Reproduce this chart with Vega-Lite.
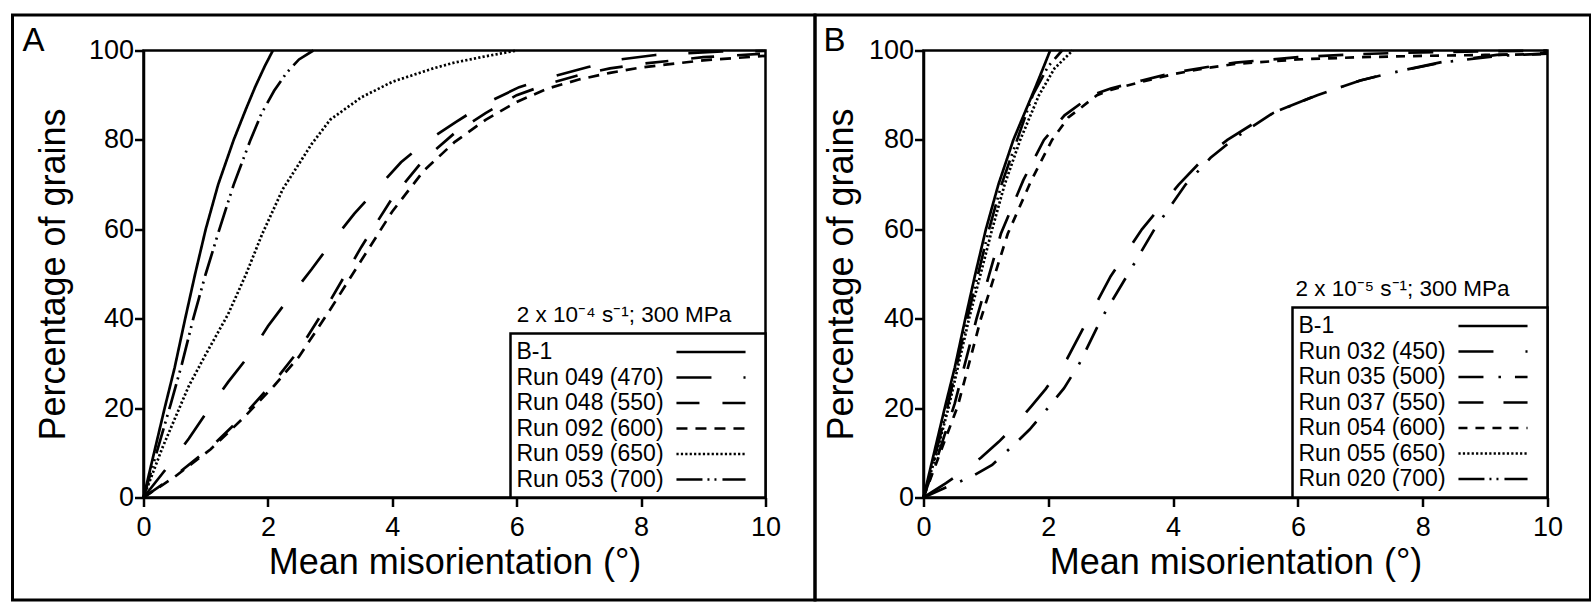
{
  "$schema": "https://vega.github.io/schema/vega-lite/v6.json",
  "background": "white",
  "padding": {"left": 9.5, "top": 11.5, "right": 0, "bottom": 0},
  "bounds": "flush",
  "spacing": 158,
  "resolve": {"scale": {"strokeDash": "independent"}, "legend": {"strokeDash": "independent"}},
  "config": {
    "font": "Liberation Sans",
    "view": {"stroke": "black", "strokeWidth": 2.5},
    "axis": {
      "domainColor": "black", "domainWidth": 2.5, "tickColor": "black", "tickWidth": 2.5, "tickSize": 9,
      "labelFont": "Liberation Sans", "labelFontSize": 27, "labelColor": "black", "labelFlush": false, "labelOverlap": false, "labelBound": false,
      "titleFont": "Liberation Sans", "titleFontSize": 36, "titleFontWeight": "normal", "titleColor": "black", "grid": false
    },
    "legend": {
      "orient": "bottom-right", "offset": 0, "padding": 6,
      "strokeColor": "black", "strokeWidth": 2.5, "fillColor": "white",
      "symbolType": "M-3.14,0H3.14M3.87,0", "symbolSize": 484, "symbolStrokeWidth": 2.7, "symbolStrokeColor": "black", "symbolFillColor": "transparent",
      "labelFont": "Liberation Sans", "labelFontSize": 23, "labelColor": "black", "labelLimit": 600,
      "rowPadding": 0.5, "symbolOffset": 182, "labelOffset": -207
    }
  },
  "datasets": {
    "a": [
      {"series": "B-1", "x": 0, "y": 0}, {"series": "B-1", "x": 0.17, "y": 10}, {"series": "B-1", "x": 0.34, "y": 20}, {"series": "B-1", "x": 0.5, "y": 29}, {"series": "B-1", "x": 0.67, "y": 40}, {"series": "B-1", "x": 0.83, "y": 50}, {"series": "B-1", "x": 1.0, "y": 60}, {"series": "B-1", "x": 1.2, "y": 70}, {"series": "B-1", "x": 1.45, "y": 80}, {"series": "B-1", "x": 1.65, "y": 87}, {"series": "B-1", "x": 1.8, "y": 92}, {"series": "B-1", "x": 1.95, "y": 96.5}, {"series": "B-1", "x": 2.08, "y": 100},
      {"series": "Run 049 (470)", "x": 0, "y": 0}, {"series": "Run 049 (470)", "x": 0.38, "y": 6.7}, {"series": "Run 049 (470)", "x": 0.73, "y": 13.2}, {"series": "Run 049 (470)", "x": 1.03, "y": 19.4}, {"series": "Run 049 (470)", "x": 1.36, "y": 25.8}, {"series": "Run 049 (470)", "x": 1.72, "y": 32.2}, {"series": "Run 049 (470)", "x": 2.0, "y": 38.3}, {"series": "Run 049 (470)", "x": 2.34, "y": 44.6}, {"series": "Run 049 (470)", "x": 2.7, "y": 51}, {"series": "Run 049 (470)", "x": 3.03, "y": 57.2}, {"series": "Run 049 (470)", "x": 3.39, "y": 63.5}, {"series": "Run 049 (470)", "x": 3.75, "y": 69}, {"series": "Run 049 (470)", "x": 4.14, "y": 75}, {"series": "Run 049 (470)", "x": 4.53, "y": 79.5}, {"series": "Run 049 (470)", "x": 5.02, "y": 84}, {"series": "Run 049 (470)", "x": 5.48, "y": 88}, {"series": "Run 049 (470)", "x": 6.04, "y": 91.8}, {"series": "Run 049 (470)", "x": 6.53, "y": 94}, {"series": "Run 049 (470)", "x": 7.15, "y": 96.3}, {"series": "Run 049 (470)", "x": 7.61, "y": 97.9}, {"series": "Run 049 (470)", "x": 8.23, "y": 99}, {"series": "Run 049 (470)", "x": 8.72, "y": 99.4}, {"series": "Run 049 (470)", "x": 9.3, "y": 99.8}, {"series": "Run 049 (470)", "x": 10, "y": 99.9},
      {"series": "Run 048 (550)", "x": 0, "y": 0}, {"series": "Run 048 (550)", "x": 0.5, "y": 4.8}, {"series": "Run 048 (550)", "x": 1.08, "y": 11.2}, {"series": "Run 048 (550)", "x": 1.62, "y": 18.5}, {"series": "Run 048 (550)", "x": 2.1, "y": 25.9}, {"series": "Run 048 (550)", "x": 2.5, "y": 33}, {"series": "Run 048 (550)", "x": 3, "y": 44}, {"series": "Run 048 (550)", "x": 3.5, "y": 56}, {"series": "Run 048 (550)", "x": 4, "y": 67}, {"series": "Run 048 (550)", "x": 4.5, "y": 75.5}, {"series": "Run 048 (550)", "x": 5, "y": 81.5}, {"series": "Run 048 (550)", "x": 5.5, "y": 86}, {"series": "Run 048 (550)", "x": 6, "y": 90}, {"series": "Run 048 (550)", "x": 6.5, "y": 92.5}, {"series": "Run 048 (550)", "x": 7, "y": 94.5}, {"series": "Run 048 (550)", "x": 7.5, "y": 96}, {"series": "Run 048 (550)", "x": 8, "y": 97}, {"series": "Run 048 (550)", "x": 9, "y": 98.5}, {"series": "Run 048 (550)", "x": 10, "y": 99.3},
      {"series": "Run 092 (600)", "x": 0, "y": 0}, {"series": "Run 092 (600)", "x": 0.5, "y": 4.6}, {"series": "Run 092 (600)", "x": 1.08, "y": 10.8}, {"series": "Run 092 (600)", "x": 1.62, "y": 18}, {"series": "Run 092 (600)", "x": 2.1, "y": 25}, {"series": "Run 092 (600)", "x": 2.5, "y": 31.5}, {"series": "Run 092 (600)", "x": 3, "y": 42}, {"series": "Run 092 (600)", "x": 3.5, "y": 53}, {"series": "Run 092 (600)", "x": 4, "y": 64}, {"series": "Run 092 (600)", "x": 4.5, "y": 73}, {"series": "Run 092 (600)", "x": 5, "y": 79.5}, {"series": "Run 092 (600)", "x": 5.5, "y": 84.5}, {"series": "Run 092 (600)", "x": 6, "y": 88.5}, {"series": "Run 092 (600)", "x": 6.5, "y": 91.5}, {"series": "Run 092 (600)", "x": 7, "y": 93.5}, {"series": "Run 092 (600)", "x": 7.5, "y": 95}, {"series": "Run 092 (600)", "x": 8, "y": 96.2}, {"series": "Run 092 (600)", "x": 9, "y": 97.8}, {"series": "Run 092 (600)", "x": 10, "y": 98.8},
      {"series": "Run 059 (650)", "x": 0, "y": 0}, {"series": "Run 059 (650)", "x": 0.3, "y": 11}, {"series": "Run 059 (650)", "x": 0.73, "y": 25}, {"series": "Run 059 (650)", "x": 1.0, "y": 32}, {"series": "Run 059 (650)", "x": 1.36, "y": 41}, {"series": "Run 059 (650)", "x": 1.65, "y": 50}, {"series": "Run 059 (650)", "x": 1.91, "y": 59}, {"series": "Run 059 (650)", "x": 2.24, "y": 69}, {"series": "Run 059 (650)", "x": 2.7, "y": 79}, {"series": "Run 059 (650)", "x": 3.0, "y": 84.5}, {"series": "Run 059 (650)", "x": 3.5, "y": 89.5}, {"series": "Run 059 (650)", "x": 4, "y": 93}, {"series": "Run 059 (650)", "x": 4.66, "y": 96}, {"series": "Run 059 (650)", "x": 5, "y": 97.3}, {"series": "Run 059 (650)", "x": 5.5, "y": 98.7}, {"series": "Run 059 (650)", "x": 6, "y": 100},
      {"series": "Run 053 (700)", "x": 0, "y": 0}, {"series": "Run 053 (700)", "x": 0.22, "y": 10.5}, {"series": "Run 053 (700)", "x": 0.44, "y": 21}, {"series": "Run 053 (700)", "x": 0.62, "y": 30}, {"series": "Run 053 (700)", "x": 0.8, "y": 40}, {"series": "Run 053 (700)", "x": 1.0, "y": 50}, {"series": "Run 053 (700)", "x": 1.22, "y": 60}, {"series": "Run 053 (700)", "x": 1.45, "y": 70}, {"series": "Run 053 (700)", "x": 1.72, "y": 80}, {"series": "Run 053 (700)", "x": 1.9, "y": 86}, {"series": "Run 053 (700)", "x": 2.1, "y": 91}, {"series": "Run 053 (700)", "x": 2.3, "y": 95}, {"series": "Run 053 (700)", "x": 2.5, "y": 98}, {"series": "Run 053 (700)", "x": 2.73, "y": 100}
    ],
    "b": [
      {"series": "B-1", "x": 0, "y": 0}, {"series": "B-1", "x": 0.17, "y": 10}, {"series": "B-1", "x": 0.34, "y": 20}, {"series": "B-1", "x": 0.5, "y": 29}, {"series": "B-1", "x": 0.67, "y": 40}, {"series": "B-1", "x": 0.83, "y": 50}, {"series": "B-1", "x": 1.0, "y": 60}, {"series": "B-1", "x": 1.2, "y": 70}, {"series": "B-1", "x": 1.44, "y": 80}, {"series": "B-1", "x": 1.65, "y": 87}, {"series": "B-1", "x": 1.8, "y": 92}, {"series": "B-1", "x": 1.93, "y": 96.5}, {"series": "B-1", "x": 2.03, "y": 100},
      {"series": "Run 032 (450)", "x": 0, "y": 0}, {"series": "Run 032 (450)", "x": 0.36, "y": 3.2}, {"series": "Run 032 (450)", "x": 0.65, "y": 6}, {"series": "Run 032 (450)", "x": 0.92, "y": 8.9}, {"series": "Run 032 (450)", "x": 1.21, "y": 12.5}, {"series": "Run 032 (450)", "x": 1.47, "y": 16.2}, {"series": "Run 032 (450)", "x": 1.72, "y": 20.3}, {"series": "Run 032 (450)", "x": 1.96, "y": 24.3}, {"series": "Run 032 (450)", "x": 2.3, "y": 31}, {"series": "Run 032 (450)", "x": 2.62, "y": 39.5}, {"series": "Run 032 (450)", "x": 3.0, "y": 49.5}, {"series": "Run 032 (450)", "x": 3.5, "y": 60}, {"series": "Run 032 (450)", "x": 4.09, "y": 70}, {"series": "Run 032 (450)", "x": 4.5, "y": 76}, {"series": "Run 032 (450)", "x": 4.87, "y": 80}, {"series": "Run 032 (450)", "x": 5.5, "y": 85.5}, {"series": "Run 032 (450)", "x": 6.31, "y": 90}, {"series": "Run 032 (450)", "x": 7, "y": 93.3}, {"series": "Run 032 (450)", "x": 7.49, "y": 95}, {"series": "Run 032 (450)", "x": 8.34, "y": 97.5}, {"series": "Run 032 (450)", "x": 9.19, "y": 99}, {"series": "Run 032 (450)", "x": 10, "y": 99.5},
      {"series": "Run 035 (500)", "x": 0, "y": 0}, {"series": "Run 035 (500)", "x": 0.4, "y": 2.5}, {"series": "Run 035 (500)", "x": 0.79, "y": 4.8}, {"series": "Run 035 (500)", "x": 1.1, "y": 7.3}, {"series": "Run 035 (500)", "x": 1.45, "y": 11.8}, {"series": "Run 035 (500)", "x": 1.7, "y": 15.2}, {"series": "Run 035 (500)", "x": 2.01, "y": 20.3}, {"series": "Run 035 (500)", "x": 2.25, "y": 24.4}, {"series": "Run 035 (500)", "x": 2.5, "y": 30}, {"series": "Run 035 (500)", "x": 2.85, "y": 40}, {"series": "Run 035 (500)", "x": 3.3, "y": 50.5}, {"series": "Run 035 (500)", "x": 3.7, "y": 60}, {"series": "Run 035 (500)", "x": 4.2, "y": 70}, {"series": "Run 035 (500)", "x": 4.6, "y": 76}, {"series": "Run 035 (500)", "x": 5.0, "y": 80.5}, {"series": "Run 035 (500)", "x": 5.6, "y": 86}, {"series": "Run 035 (500)", "x": 6.31, "y": 90}, {"series": "Run 035 (500)", "x": 7, "y": 93.3}, {"series": "Run 035 (500)", "x": 7.5, "y": 95}, {"series": "Run 035 (500)", "x": 8.3, "y": 97.3}, {"series": "Run 035 (500)", "x": 9.2, "y": 98.8}, {"series": "Run 035 (500)", "x": 10, "y": 99.3},
      {"series": "Run 037 (550)", "x": 0, "y": 0}, {"series": "Run 037 (550)", "x": 0.2, "y": 8}, {"series": "Run 037 (550)", "x": 0.5, "y": 21}, {"series": "Run 037 (550)", "x": 0.85, "y": 40}, {"series": "Run 037 (550)", "x": 1.24, "y": 59}, {"series": "Run 037 (550)", "x": 1.6, "y": 71}, {"series": "Run 037 (550)", "x": 1.93, "y": 80}, {"series": "Run 037 (550)", "x": 2.26, "y": 85.5}, {"series": "Run 037 (550)", "x": 2.7, "y": 90}, {"series": "Run 037 (550)", "x": 3.0, "y": 91.5}, {"series": "Run 037 (550)", "x": 3.5, "y": 93.3}, {"series": "Run 037 (550)", "x": 4, "y": 95}, {"series": "Run 037 (550)", "x": 4.5, "y": 96.2}, {"series": "Run 037 (550)", "x": 5, "y": 97.3}, {"series": "Run 037 (550)", "x": 6, "y": 98.5}, {"series": "Run 037 (550)", "x": 7, "y": 99.2}, {"series": "Run 037 (550)", "x": 8, "y": 99.6}, {"series": "Run 037 (550)", "x": 10, "y": 100},
      {"series": "Run 054 (600)", "x": 0, "y": 0}, {"series": "Run 054 (600)", "x": 0.2, "y": 7.5}, {"series": "Run 054 (600)", "x": 0.55, "y": 20.5}, {"series": "Run 054 (600)", "x": 0.92, "y": 40}, {"series": "Run 054 (600)", "x": 1.35, "y": 59}, {"series": "Run 054 (600)", "x": 1.73, "y": 71}, {"series": "Run 054 (600)", "x": 2.06, "y": 80}, {"series": "Run 054 (600)", "x": 2.32, "y": 85}, {"series": "Run 054 (600)", "x": 2.78, "y": 90}, {"series": "Run 054 (600)", "x": 3.0, "y": 91.2}, {"series": "Run 054 (600)", "x": 3.5, "y": 93}, {"series": "Run 054 (600)", "x": 4, "y": 94.7}, {"series": "Run 054 (600)", "x": 4.5, "y": 96}, {"series": "Run 054 (600)", "x": 5, "y": 97}, {"series": "Run 054 (600)", "x": 6, "y": 98}, {"series": "Run 054 (600)", "x": 7, "y": 98.5}, {"series": "Run 054 (600)", "x": 8, "y": 98.8}, {"series": "Run 054 (600)", "x": 9, "y": 99}, {"series": "Run 054 (600)", "x": 10, "y": 99.2},
      {"series": "Run 055 (650)", "x": 0, "y": 0}, {"series": "Run 055 (650)", "x": 0.2, "y": 9.5}, {"series": "Run 055 (650)", "x": 0.4, "y": 20}, {"series": "Run 055 (650)", "x": 0.73, "y": 40}, {"series": "Run 055 (650)", "x": 1.1, "y": 60}, {"series": "Run 055 (650)", "x": 1.3, "y": 70}, {"series": "Run 055 (650)", "x": 1.55, "y": 80}, {"series": "Run 055 (650)", "x": 1.85, "y": 90}, {"series": "Run 055 (650)", "x": 2.1, "y": 96}, {"series": "Run 055 (650)", "x": 2.39, "y": 100},
      {"series": "Run 020 (700)", "x": 0, "y": 0}, {"series": "Run 020 (700)", "x": 0.19, "y": 9.5}, {"series": "Run 020 (700)", "x": 0.38, "y": 20}, {"series": "Run 020 (700)", "x": 0.7, "y": 40}, {"series": "Run 020 (700)", "x": 1.05, "y": 60}, {"series": "Run 020 (700)", "x": 1.25, "y": 70}, {"series": "Run 020 (700)", "x": 1.5, "y": 80}, {"series": "Run 020 (700)", "x": 1.75, "y": 90}, {"series": "Run 020 (700)", "x": 2.0, "y": 96.5}, {"series": "Run 020 (700)", "x": 2.22, "y": 100}
    ]
  },
  "hconcat": [
    {
      "width": 622, "height": 447,
      "layer": [
        {
          "data": {"name": "a"},
          "mark": {"type": "line", "color": "black", "strokeWidth": 2.7},
          "encoding": {
            "x": {"field": "x", "type": "quantitative", "scale": {"domain": [0, 10], "nice": false, "zero": false},
                  "axis": {"values": [0, 2, 4, 6, 8, 10], "title": "Mean misorientation (°)", "labelPadding": 8, "titlePadding": 5}},
            "y": {"field": "y", "type": "quantitative", "scale": {"domain": [0, 100], "nice": false},
                  "axis": {"values": [0, 20, 40, 60, 80, 100], "title": "Percentage of grains", "labelPadding": 1, "titlePadding": 16}},
            "strokeDash": {"field": "series", "type": "nominal",
              "scale": {"domain": ["B-1", "Run 049 (470)", "Run 048 (550)", "Run 092 (600)", "Run 059 (650)", "Run 053 (700)"],
                        "range": [[1, 0], [35, 32], [23, 23], [11, 8], [2.2, 2.2], [26, 5, 2, 5, 2, 6]]},
              "legend": {"title": null}}
          }
        },
        {
          "data": {"values": [{}]},
          "mark": {"type": "rect", "filled": false, "stroke": "black", "strokeWidth": 3, "clip": false},
          "encoding": {
            "x": {"datum": -2.106, "type": "quantitative",
                  "axis": {"values": [0, 2, 4, 6, 8, 10], "title": "Mean misorientation (°)", "labelPadding": 8, "titlePadding": 5}},
            "x2": {"datum": 10.796},
            "y": {"datum": 107.94, "type": "quantitative",
                  "axis": {"values": [0, 20, 40, 60, 80, 100], "title": "Percentage of grains", "labelPadding": 1, "titlePadding": 16}},
            "y2": {"datum": -22.93}
          }
        },
        {
          "data": {"values": [{}]},
          "mark": {"type": "text", "align": "left", "baseline": "middle", "fontSize": 22.5, "font": "Liberation Sans", "color": "black", "text": "2 x 10⁻⁴ s⁻¹; 300 MPa"},
          "encoding": {
            "x": {"datum": 6.0, "type": "quantitative",
                  "axis": {"values": [0, 2, 4, 6, 8, 10], "title": "Mean misorientation (°)", "labelPadding": 8, "titlePadding": 5}},
            "y": {"datum": 40.9, "type": "quantitative",
                  "axis": {"values": [0, 20, 40, 60, 80, 100], "title": "Percentage of grains", "labelPadding": 1, "titlePadding": 16}}
          }
        },
        {
          "data": {"values": [{}]},
          "mark": {"type": "text", "align": "left", "baseline": "alphabetic", "fontSize": 33, "font": "Liberation Sans", "color": "black", "clip": false, "text": "A"},
          "encoding": {
            "x": {"datum": -1.945, "type": "quantitative",
                  "axis": {"values": [0, 2, 4, 6, 8, 10], "title": "Mean misorientation (°)", "labelPadding": 8, "titlePadding": 5}},
            "y": {"datum": 99.9, "type": "quantitative",
                  "axis": {"values": [0, 20, 40, 60, 80, 100], "title": "Percentage of grains", "labelPadding": 1, "titlePadding": 16}}
          }
        }
      ]
    },
    {
      "width": 624, "height": 447,
      "layer": [
        {
          "data": {"name": "b"},
          "mark": {"type": "line", "color": "black", "strokeWidth": 2.7},
          "encoding": {
            "x": {"field": "x", "type": "quantitative", "scale": {"domain": [0, 10], "nice": false, "zero": false},
                  "axis": {"values": [0, 2, 4, 6, 8, 10], "title": "Mean misorientation (°)", "labelPadding": 8, "titlePadding": 5}},
            "y": {"field": "y", "type": "quantitative", "scale": {"domain": [0, 100], "nice": false},
                  "axis": {"values": [0, 20, 40, 60, 80, 100], "title": "Percentage of grains", "labelPadding": 1, "titlePadding": 7.5}},
            "strokeDash": {"field": "series", "type": "nominal",
              "scale": {"domain": ["B-1", "Run 032 (450)", "Run 035 (500)", "Run 037 (550)", "Run 054 (600)", "Run 055 (650)", "Run 020 (700)"],
                        "range": [[1, 0], [35, 32], [25, 15, 2.5, 14], [25, 20], [9, 8], [2.2, 2.2], [26, 5, 2, 5, 2, 6]]},
              "legend": {"title": null}}
          }
        },
        {
          "data": {"values": [{}]},
          "mark": {"type": "rect", "filled": false, "stroke": "black", "strokeWidth": 3, "clip": false},
          "encoding": {
            "x": {"datum": -1.739, "type": "quantitative",
                  "axis": {"values": [0, 2, 4, 6, 8, 10], "title": "Mean misorientation (°)", "labelPadding": 8, "titlePadding": 5}},
            "x2": {"datum": 10.689},
            "y": {"datum": 107.94, "type": "quantitative",
                  "axis": {"values": [0, 20, 40, 60, 80, 100], "title": "Percentage of grains", "labelPadding": 1, "titlePadding": 7.5}},
            "y2": {"datum": -22.93}
          }
        },
        {
          "data": {"values": [{}]},
          "mark": {"type": "text", "align": "left", "baseline": "middle", "fontSize": 22.5, "font": "Liberation Sans", "color": "black", "text": "2 x 10⁻⁵ s⁻¹; 300 MPa"},
          "encoding": {
            "x": {"datum": 5.96, "type": "quantitative",
                  "axis": {"values": [0, 2, 4, 6, 8, 10], "title": "Mean misorientation (°)", "labelPadding": 8, "titlePadding": 5}},
            "y": {"datum": 46.7, "type": "quantitative",
                  "axis": {"values": [0, 20, 40, 60, 80, 100], "title": "Percentage of grains", "labelPadding": 1, "titlePadding": 7.5}}
          }
        },
        {
          "data": {"values": [{}]},
          "mark": {"type": "text", "align": "left", "baseline": "alphabetic", "fontSize": 33, "font": "Liberation Sans", "color": "black", "clip": false, "text": "B"},
          "encoding": {
            "x": {"datum": -1.603, "type": "quantitative",
                  "axis": {"values": [0, 2, 4, 6, 8, 10], "title": "Mean misorientation (°)", "labelPadding": 8, "titlePadding": 5}},
            "y": {"datum": 99.9, "type": "quantitative",
                  "axis": {"values": [0, 20, 40, 60, 80, 100], "title": "Percentage of grains", "labelPadding": 1, "titlePadding": 7.5}}
          }
        }
      ]
    }
  ]
}
